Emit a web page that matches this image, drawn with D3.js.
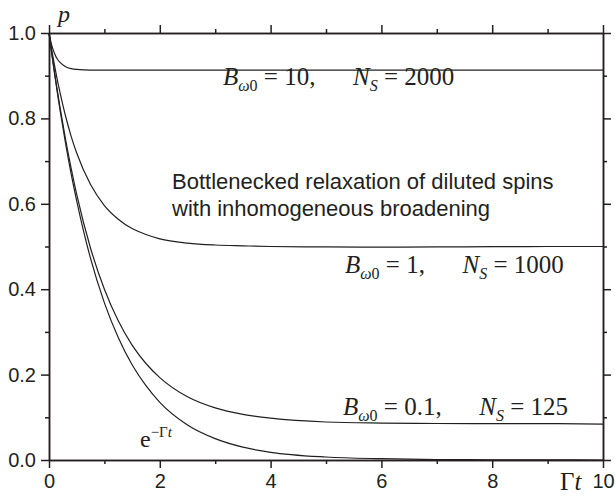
<!DOCTYPE html>
<html>
<head>
<meta charset="utf-8">
<script src="https://cdn.jsdelivr.net/npm/d3@7/dist/d3.min.js"></script>
<style>
    body { margin: 0; background: #fff; }
    .axis text { font-family: "Liberation Sans", Arial, sans-serif; font-size: 20px; fill: #231f20; }
    .axis path, .axis line { stroke: #231f20; stroke-width: 1.5px; }
    .curve { fill: none; stroke: #231f20; stroke-width: 1.2px; }
    .serif { font-family: "Liberation Serif", "Times New Roman", serif; fill: #231f20; }
    .note { font-family: "Liberation Sans", Arial, sans-serif; font-size: 22px; fill: #231f20; }
</style>
</head>
<body>
<div id="chart"></div>
<script>

// time axis (Gamma t) shared by all curves
const timeGrid = [0, 0.05, 0.1, 0.15, 0.2, 0.3, 0.4, 0.5, 0.75, 1, 1.25, 1.5, 1.75, 2, 2.5, 3, 3.5, 4, 5, 6, 7, 8, 9, 10];

// p values
const pExp  = [1, 0.951, 0.905, 0.861, 0.819, 0.741, 0.670, 0.607, 0.472, 0.368, 0.287, 0.223, 0.174, 0.135, 0.082, 0.050, 0.030, 0.018, 0.007, 0.003, 0.001, 0.0005, 0.0002, 0];
const pB01  = [1, 0.953, 0.908, 0.865, 0.825, 0.750, 0.683, 0.622, 0.496, 0.400, 0.326, 0.269, 0.226, 0.193, 0.148, 0.122, 0.107, 0.098, 0.089, 0.0865, 0.0855, 0.085, 0.085, 0.084];
const pB1   = [1, 0.960, 0.924, 0.890, 0.860, 0.805, 0.758, 0.719, 0.645, 0.596, 0.564, 0.542, 0.528, 0.518, 0.508, 0.5035, 0.5015, 0.500, 0.499, 0.4985, 0.499, 0.4995, 0.500, 0.500];
const pB10  = [1, 0.971, 0.952, 0.939, 0.931, 0.921, 0.9165, 0.9146, 0.9132, 0.913, 0.913, 0.913, 0.913, 0.913, 0.913, 0.913, 0.913, 0.913, 0.913, 0.913, 0.913, 0.913, 0.913, 0.913];

const xMajorTicks = [0, 2, 4, 6, 8, 10];
const xMinorTicks = [1, 3, 5, 7, 9];
const yMajorTicks = [0, 0.2, 0.4, 0.6, 0.8, 1.0];
const yMinorTicks = [0.1, 0.3, 0.5, 0.7, 0.9];

class RelaxationChart {

    constructor(parentElement) {
        this.parentElement = parentElement;
        this.series = [pExp, pB01, pB1, pB10];
        this.initVis();
    }

    initVis() {
        let vis = this;

        vis.margin = {top: 33, right: 12, bottom: 38, left: 49};
        vis.width = 615 - vis.margin.left - vis.margin.right;
        vis.height = 498 - vis.margin.top - vis.margin.bottom;

        vis.svg = d3.select("#" + vis.parentElement).append("svg")
            .attr("width", 615)
            .attr("height", 498)
            .append("g")
            .attr("transform", `translate(${vis.margin.left}, ${vis.margin.top})`);

        vis.x = d3.scaleLinear().domain([0, 10]).range([0, vis.width]);
        vis.y = d3.scaleLinear().domain([0, 1]).range([vis.height, 0]);

        vis.drawAxes();
        vis.drawCurves();
        vis.drawLabels();
    }

    drawAxes() {
        let vis = this;

        // bottom
        vis.svg.append("g").attr("class", "axis")
            .attr("transform", `translate(0, ${vis.height})`)
            .call(d3.axisBottom(vis.x).tickValues(xMajorTicks).tickSize(8).tickSizeOuter(0).tickPadding(6)
                .tickFormat(d => d));
        vis.svg.append("g").attr("class", "axis")
            .attr("transform", `translate(0, ${vis.height})`)
            .call(d3.axisBottom(vis.x).tickValues(xMinorTicks).tickSize(4).tickSizeOuter(0).tickFormat(""));

        // top
        vis.svg.append("g").attr("class", "axis")
            .call(d3.axisTop(vis.x).tickValues(xMajorTicks).tickSize(8).tickSizeOuter(0).tickFormat(""));
        vis.svg.append("g").attr("class", "axis")
            .call(d3.axisTop(vis.x).tickValues(xMinorTicks).tickSize(4).tickSizeOuter(0).tickFormat(""));

        // left
        vis.svg.append("g").attr("class", "axis")
            .call(d3.axisLeft(vis.y).tickValues(yMajorTicks).tickSize(8).tickSizeOuter(0).tickPadding(5)
                .tickFormat(d3.format(".1f")));
        vis.svg.append("g").attr("class", "axis")
            .call(d3.axisLeft(vis.y).tickValues(yMinorTicks).tickSize(4).tickSizeOuter(0).tickFormat(""));

        // right
        vis.svg.append("g").attr("class", "axis")
            .attr("transform", `translate(${vis.width}, 0)`)
            .call(d3.axisRight(vis.y).tickValues(yMajorTicks).tickSize(8).tickSizeOuter(0).tickFormat(""));
        vis.svg.append("g").attr("class", "axis")
            .attr("transform", `translate(${vis.width}, 0)`)
            .call(d3.axisRight(vis.y).tickValues(yMinorTicks).tickSize(4).tickSizeOuter(0).tickFormat(""));

        vis.svg.selectAll(".axis text").attr("fill", "#231f20");
    }

    drawCurves() {
        let vis = this;

        vis.line = d3.line()
            .x((d, i) => vis.x(timeGrid[i]))
            .y(d => vis.y(d))
            .curve(d3.curveMonotoneX);

        vis.svg.selectAll(".curve")
            .data(vis.series)
            .enter().append("path")
            .attr("class", "curve")
            .attr("d", d => vis.line(d));
    }

    // B_omega0 = .., N_S = .. annotation
    addParamLabel(x, y, bVal, nVal) {
        let vis = this;
        let t = vis.svg.append("text").attr("class", "serif")
            .attr("x", x).attr("y", y).style("font-size", "25px");
        t.append("tspan").style("font-style", "italic").text("B");
        t.append("tspan").attr("dy", 6).style("font-size", "16px").style("font-style", "italic").text("ω");
        t.append("tspan").style("font-size", "16px").text("0");
        t.append("tspan").attr("dy", -6).text(" = " + bVal + ",\u2003\u2002");
        t.append("tspan").style("font-style", "italic").text("N");
        t.append("tspan").attr("dy", 6).style("font-size", "16px").style("font-style", "italic").text("S");
        t.append("tspan").attr("dy", -6).text(" = " + nVal);
    }

    drawLabels() {
        let vis = this;

        // p axis title
        vis.svg.append("text").attr("class", "serif")
            .attr("x", 9).attr("y", -11)
            .style("font-size", "24px").style("font-style", "italic")
            .text("p");

        // Gamma t axis title
        let gt = vis.svg.append("text").attr("class", "serif")
            .attr("x", 511).attr("y", vis.height + 30)
            .style("font-size", "25px");
        gt.append("tspan").text("Γ");
        gt.append("tspan").style("font-style", "italic").text("t");

        vis.addParamLabel(174, 52, "10", "2000");
        vis.addParamLabel(296, 240, "1", "1000");
        vis.addParamLabel(294, 382, "0.1", "125");

        // e^{-Gamma t}
        let e = vis.svg.append("text").attr("class", "serif")
            .attr("x", 91).attr("y", 414).style("font-size", "24px");
        e.append("tspan").text("e");
        e.append("tspan").attr("dy", -10).style("font-size", "15px").text("−Γ");
        e.append("tspan").style("font-size", "15px").style("font-style", "italic").text("t");

        vis.svg.append("text").attr("class", "note")
            .attr("x", 123).attr("y", 156)
            .text("Bottlenecked relaxation of diluted spins");
        vis.svg.append("text").attr("class", "note")
            .attr("x", 123).attr("y", 183)
            .text("with inhomogeneous broadening");
    }
}

new RelaxationChart("chart");
</script>
</body>
</html>
